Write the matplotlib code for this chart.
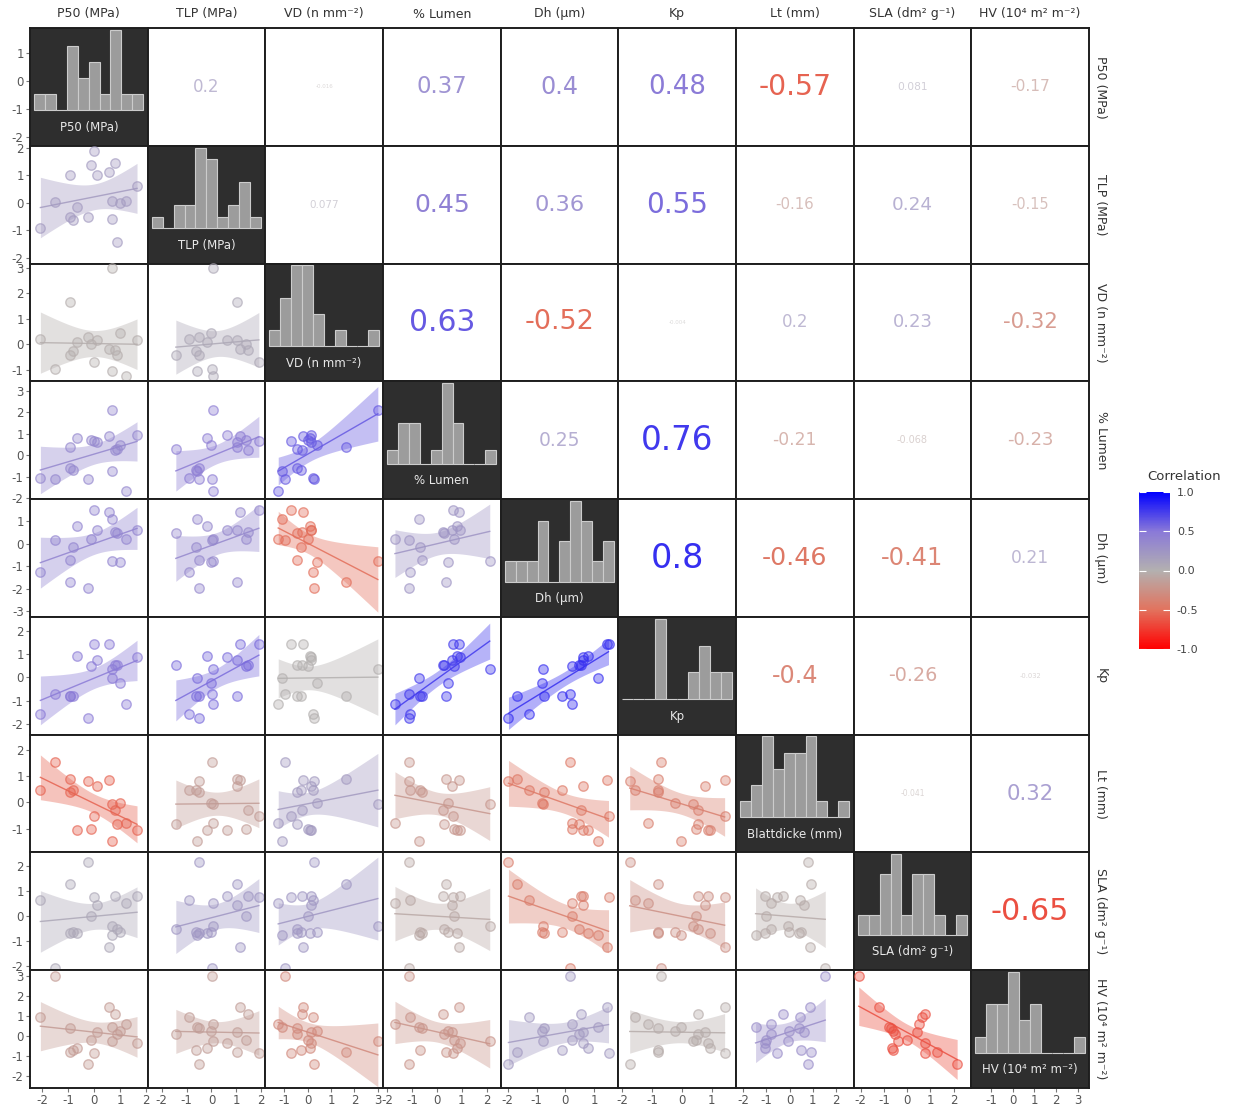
import numpy as np
import matplotlib
matplotlib.use("Agg")
import matplotlib.pyplot as plt
from matplotlib.colors import LinearSegmentedColormap, Normalize
from matplotlib.cm import ScalarMappable
from matplotlib.ticker import MultipleLocator

plt.rcParams["axes.unicode_minus"] = False
plt.rcParams["font.family"] = ["DejaVu Sans"]

labels = ["P50 (MPa)", "TLP (MPa)", "VD (n mm⁻²)", "% Lumen", "Dh (µm)",
          "Kp", "Lt (mm)", "SLA (dm² g⁻¹)", "HV (10⁴ m² m⁻²)"]
diag_labels = ["P50 (MPa)", "TLP (MPa)", "VD (n mm⁻²)", "% Lumen", "Dh (µm)",
               "Kp", "Blattdicke (mm)", "SLA (dm² g⁻¹)", "HV (10⁴ m² m⁻²)"]

# standardised trait values (z-scores), one entry per species
p50 = [-2.08, -1.52, -0.94, -0.94, -0.81, -0.68, -0.25, -0.13, 0.00, 0.10, 0.56, 0.66, 0.66, 0.79, 0.88, 0.97, 1.21, 1.64]
tlp = [-0.91, 0.04, 1.03, -0.51, -0.61, -0.16, -0.52, 1.39, 1.90, 1.03, 1.13, 0.06, -0.58, 1.45, -1.43, 0.00, 0.08, 0.61]
vd = [0.22, -0.96, 1.64, -0.44, -0.26, 0.09, 0.29, 0.00, -0.70, 0.16, -0.21, 3.00, -1.07, -0.24, -0.44, 0.42, -1.25, 0.16]
lumen = [-1.08, -1.12, 0.38, -0.62, -0.69, 0.80, -1.12, 0.69, 0.65, 0.62, 0.88, 2.12, -0.74, 0.23, 0.30, 0.46, -1.69, 0.92]
dh = [-1.25, 0.16, -1.69, -0.73, -0.13, 0.79, -1.97, 0.22, 1.49, 0.61, 1.43, -0.78, 1.12, 0.54, 0.46, -0.81, 0.22, 0.61]
kp = [-1.56, -0.70, -0.79, -0.79, -0.79, 0.94, -1.74, 0.47, 1.43, 0.76, 1.43, 0.36, -0.03, 0.54, 0.54, -0.24, -1.14, 0.87]
lt = [0.46, 1.53, 0.90, 0.39, 0.48, -1.04, 0.80, -1.01, -0.53, 0.61, 0.86, -0.05, -1.46, -0.28, -0.81, -0.03, -0.78, -1.04]
sla = [0.64, -2.08, 1.28, -0.69, -0.63, -0.67, 2.15, 0.00, 0.75, 0.44, -1.23, -0.40, -0.76, 0.77, -0.53, -0.63, 0.51, 0.77]
hv = [0.95, 3.00, -0.78, 0.43, -0.70, -0.60, -1.40, -0.20, -0.87, 0.22, 1.47, -0.23, 0.47, 1.13, 0.13, 0.27, 0.60, -0.37]
traits = [p50, tlp, vd, lumen, dh, kp, lt, sla, hv]

# Pearson r, upper triangle, row by row
corr_upper = [
    [0.2, -0.016, 0.37, 0.4, 0.48, -0.57, 0.081, -0.17],
    [0.077, 0.45, 0.36, 0.55, -0.16, 0.24, -0.15],
    [0.63, -0.52, -0.004, 0.2, 0.23, -0.32],
    [0.25, 0.76, -0.21, -0.068, -0.23],
    [0.8, -0.46, -0.41, 0.21],
    [-0.4, -0.26, -0.032],
    [-0.041, 0.32],
    [-0.65],
]

# histogram counts on the diagonal (10 bins each)
hist_p50 = [1, 1, 0, 4, 2, 3, 1, 5, 1, 1]
hist_tlp = [1, 0, 2, 2, 7, 6, 1, 2, 4, 1]
hist_vd = [1, 3, 5, 5, 2, 0, 1, 0, 0, 1]
hist_lumen = [1, 3, 3, 0, 1, 6, 3, 0, 0, 1]
hist_dh = [1, 1, 1, 3, 0, 2, 4, 3, 1, 2]
hist_kp = [0, 0, 0, 3, 0, 0, 1, 2, 1, 1]
hist_lt = [1, 2, 5, 3, 4, 4, 5, 1, 0, 1]
hist_sla = [1, 1, 3, 4, 1, 3, 3, 1, 0, 1]
hist_hv = [1, 3, 3, 5, 2, 3, 0, 0, 0, 1]
hists = [hist_p50, hist_tlp, hist_vd, hist_lumen, hist_dh, hist_kp, hist_lt, hist_sla, hist_hv]

# axis ranges: y per row, x per column
row_lims = [(-2.33, 1.91), (-2.21, 2.08), (-1.46, 3.16), (-2.05, 3.44), (-3.24, 1.98),
            (-2.46, 2.6), (-1.91, 2.57), (-2.16, 2.52), (-2.6, 3.3)]
col_lims = [(-2.48, 2.05), (-2.56, 2.16), (-1.8, 3.22), (-2.17, 2.56), (-2.24, 1.83),
            (-2.12, 1.81), (-2.3, 2.75), (-2.3, 2.76), (-1.93, 3.53)]

cmap = LinearSegmentedColormap.from_list(
    "corr", [(0, "#ff0000"), (0.25, "#e2735e"), (0.5, "#b3b0b0"), (0.75, "#8a79d8"), (1, "#0000ff")])
norm = Normalize(-1, 1)


def corr_of(i, j):
    a, b = min(i, j), max(i, j)
    return corr_upper[a][b - a - 1]


W, H = 1237, 1111
fig = plt.figure(figsize=(W / 100, H / 100), dpi=100)
xe = np.linspace(30, 1089, 10)
ye = np.linspace(28, 1088, 10)
n = len(traits)

for i in range(n):
    for j in range(n):
        ax = fig.add_axes([xe[j] / W, 1 - ye[i + 1] / H, (xe[j + 1] - xe[j]) / W, (ye[i + 1] - ye[i]) / H])
        ax.set_xlim(col_lims[j])
        ax.set_ylim(row_lims[i])
        for s in ax.spines.values():
            s.set_color("#1e1e1e")
            s.set_linewidth(1.4)
        ax.xaxis.set_major_locator(MultipleLocator(1))
        ax.yaxis.set_major_locator(MultipleLocator(1))
        ax.tick_params(length=3, color="#777", labelsize=8.5, labelcolor="#555", pad=1.5,
                       left=(j == 0), labelleft=(j == 0), bottom=(i == n - 1), labelbottom=(i == n - 1))
        if i == n - 1:
            ax.set_xticklabels([str(int(round(t))) for t in ax.get_xticks()])
        if j == 0:
            ax.set_yticklabels([str(int(round(t))) for t in ax.get_yticks()])

        if i == j:
            ax.set_facecolor("#2e2e2e")
            counts = np.array(hists[i], dtype=float)
            x0, x1, base, top = 0.035, 0.962, 0.30, 0.985
            bw = (x1 - x0) / len(counts)
            lefts = x0 + bw * np.arange(len(counts))
            ax.bar(lefts, counts / counts.max() * (top - base), width=bw, bottom=base, align="edge",
                   color="#9c9c9c", edgecolor="#cccccc", linewidth=0.8, transform=ax.transAxes)
            ax.text(0.5, 0.155, diag_labels[i], transform=ax.transAxes, ha="center", va="center",
                    fontsize=8.5, color="#e8e8e8", clip_on=True)
        elif i < j:
            r = corr_of(i, j)
            size = max(4.0, 27 * np.sqrt(abs(r)))
            ax.text(0.5, 0.5, f"{r:.2g}", transform=ax.transAxes, ha="center", va="center",
                    fontsize=size, color=cmap(norm(r)), alpha=min(1.0, 0.45 + 1.2 * abs(r)))
        else:
            r = corr_of(i, j)
            c = np.array(cmap(norm(r)))
            x = np.array(traits[j])
            y = np.array(traits[i])
            b1, b0 = np.polyfit(x, y, 1)
            xs = np.linspace(x.min(), x.max(), 60)
            yhat = b0 + b1 * xs
            resid = y - (b0 + b1 * x)
            s = np.sqrt(np.sum(resid ** 2) / (len(x) - 2))
            se = s * np.sqrt(1 / len(x) + (xs - x.mean()) ** 2 / np.sum((x - x.mean()) ** 2))
            t95 = 2.12
            ax.fill_between(xs, yhat - t95 * se, yhat + t95 * se, color=c[:3], alpha=0.38, lw=0)
            ax.plot(xs, yhat, color=c[:3], lw=1.0, alpha=0.85)
            ax.scatter(x, y, s=46, facecolors=[(*c[:3], 0.38)], edgecolors=[(*c[:3], 0.65)],
                       linewidths=1.0, clip_on=False, zorder=3)

# strip labels
for k, lab in enumerate(labels):
    fig.text((xe[k] + xe[k + 1]) / 2 / W, 1 - 14 / H, lab, ha="center", va="center",
             fontsize=9, color="#333")
    fig.text(1101 / W, 1 - (ye[k] + ye[k + 1]) / 2 / H, lab, ha="center", va="center",
             rotation=270, fontsize=9, color="#333")

# colour legend
cax = fig.add_axes([1139 / W, 1 - 649 / H, 31 / W, 157 / H])
cb = fig.colorbar(ScalarMappable(norm=norm, cmap=cmap), cax=cax, ticks=[-1, -0.5, 0, 0.5, 1])
cb.outline.set_visible(False)
cb.ax.set_yticklabels(["-1.0", "-0.5", "0.0", "0.5", "1.0"])
cb.ax.tick_params(direction="in", colors="white", length=5, width=0.8, left=True, right=True,
                  labelsize=8, labelcolor="#444", pad=5)
fig.text(1184 / W, 1 - 476 / H, "Correlation", ha="center", va="center", fontsize=9.5, color="#333")

fig.savefig("out.png", dpi=100)
